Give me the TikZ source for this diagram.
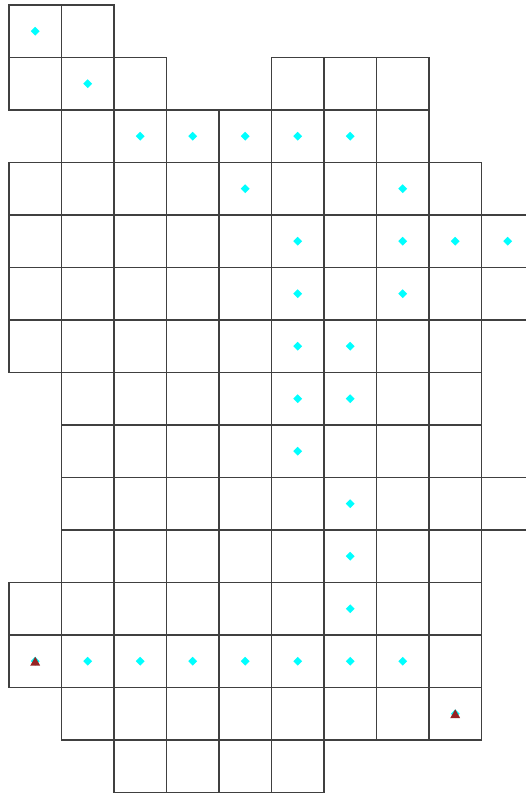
\documentclass[tikz,border=0pt]{standalone}
\usepackage{tikz}
\usetikzlibrary{calc}
\usepackage{xcolor}
\definecolor{markred}{RGB}{150,35,35}
\definecolor{markcyan}{RGB}{0,255,255}

\begin{document}
\begin{tikzpicture}[
    cellbox/.style={draw=black!75, line width=0.6pt},
    visited/.style={fill=markcyan},
    endpoint/.style={fill=markred}
  ]
  %% Page frame (margins of the original)
  \useasboundingbox (-0.171,0.095) rectangle (9.848,-15.01);
  \clip (-0.171,0.095) rectangle (9.848,-15.01);

  %% Grid cells, row by row: row / first column / last column
  \foreach \r/\a/\b in {0/0/1, 1/0/2, 1/5/7, 2/1/7, 3/0/8, 4/0/9, 5/0/9, 6/0/8,
                        7/1/8, 8/1/8, 9/1/9, 10/1/8, 11/0/8, 12/0/8, 13/1/8, 14/2/5}
    \foreach \c in {\a,...,\b}
      \draw[cellbox] (\c,-\r) rectangle ++(1,-1);

  %% Path markers (cell centres)
  \foreach \c/\r in {0/0, 1/1, 2/2, 3/2, 4/2, 5/2, 6/2, 4/3, 7/3,
                     5/4, 7/4, 8/4, 9/4, 5/5, 7/5, 5/6, 6/6, 5/7, 6/7,
                     5/8, 6/9, 6/10, 6/11, 0/12, 1/12, 2/12, 3/12, 4/12,
                     5/12, 6/12, 7/12, 8/13}
    \fill[visited] (\c+0.5,-\r-0.5) +(0.085,0) -- +(0,0.085)
                   -- +(-0.085,0) -- +(0,-0.085) -- cycle;

  %% Start and goal
  \foreach \c/\r in {0/12, 8/13}
    \fill[endpoint] (\c+0.5,-\r-0.5) +(-0.095,-0.085) -- +(0.095,-0.085)
                    -- +(0,0.085) -- cycle;
\end{tikzpicture}
\end{document}
